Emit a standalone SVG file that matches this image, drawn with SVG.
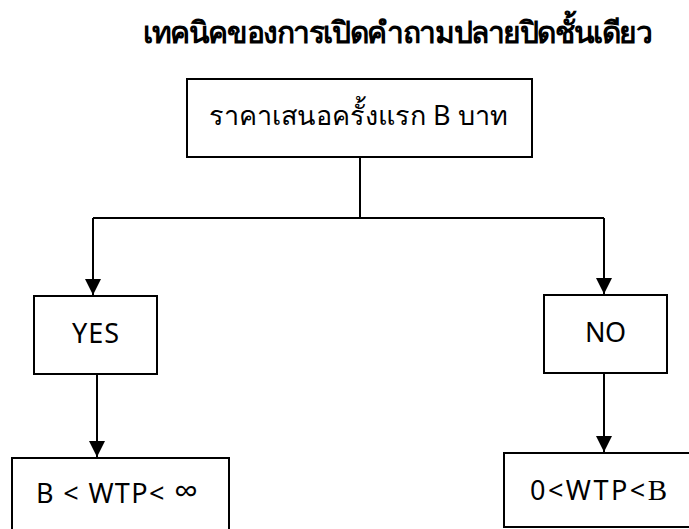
<svg xmlns="http://www.w3.org/2000/svg" width="689" height="529" viewBox="0 0 689 529">
<defs>
<style>
.box{fill:#fff;stroke:#000;stroke-width:2}
.ln{fill:none;stroke:#000;stroke-width:2}
.t{font-family:"Noto Sans","Open Sans","DejaVu Sans",sans-serif;fill:#000;font-size:27px}
.title{font-weight:bold;font-size:30px}
</style>
<marker id="ah" markerWidth="16" markerHeight="16" viewBox="0 0 16 16" refX="16" refY="8" orient="auto" markerUnits="userSpaceOnUse">
<path d="M0,0 L16,8 L0,16 Z" fill="#000"/>
</marker>
</defs>
<rect width="689" height="529" fill="#fff"/>
<text class="t title" x="143" y="43" textLength="510">เทคนิคของการเปิดคำถามปลายปิดชั้นเดียว</text>
<g id="connectors">
<path class="ln" d="M360,157 V218"/>
<path class="ln" d="M93,218 H604"/>
<path class="ln" d="M93,218 V295" marker-end="url(#ah)"/>
<path class="ln" d="M604,218 V294" marker-end="url(#ah)"/>
<path class="ln" d="M97,375 V457" marker-end="url(#ah)"/>
<path class="ln" d="M604,373 V452" marker-end="url(#ah)"/>
</g>
<g id="start">
<rect class="box" x="187" y="79" width="345" height="78"/>
<text class="t" x="209" y="125" font-size="31" textLength="299">ราคาเสนอครั้งแรก <tspan font-size="27">B</tspan> บาท</text>
</g>
<g id="yes">
<rect class="box" x="34" y="296" width="123" height="78"/>
<text class="t" x="72" y="343" textLength="47">YES</text>
</g>
<g id="no">
<rect class="box" x="544" y="295" width="123" height="78"/>
<text class="t" x="585" y="342" textLength="41">NO</text>
</g>
<g id="yes-result">
<rect class="box" x="12" y="458" width="217" height="80"/>
<text class="t" x="36" y="503" textLength="162">B &lt; WTP&lt; <tspan font-size="34">∞</tspan></text>
</g>
<g id="no-result">
<rect class="box" x="504" y="453" width="195" height="74"/>
<text class="t" x="530" y="500" textLength="137">0&lt;WTP&lt;<tspan font-family="Liberation Serif,serif" font-size="29">B</tspan></text>
</g>
</svg>
